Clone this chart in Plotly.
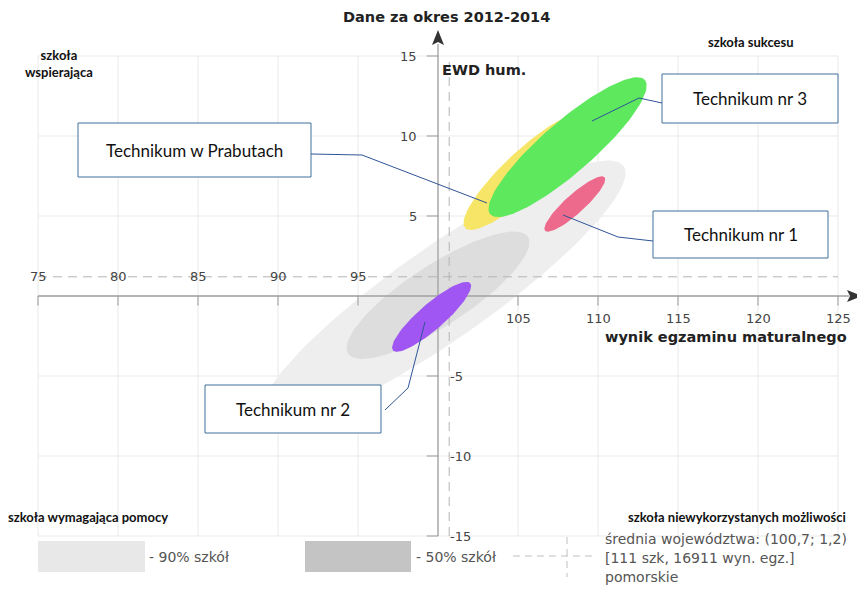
import numpy as np
import plotly.graph_objects as go

# ---------------- data ----------------
x_ticks = [75, 80, 85, 90, 95, 100, 105, 110, 115, 120, 125]
y_ticks = [-15, -10, -5, 0, 5, 10, 15]
x_tick_labels = ["75", "80", "85", "90", "95", "", "105", "110", "115", "120", "125"]
y_tick_labels = ["-15", "-10", "-5", "", "5", "10", "15"]

mean_x = 100.7
mean_y = 1.2

region_names = ["90% szkół", "50% szkół", "Technikum nr 2", "Technikum w Prabutach",
                "Technikum nr 3", "Technikum nr 1"]
region_cx = [100.3, 100.0, 99.6, 105.5, 108.1, 108.55]
region_cy = [0.2, 0.05, -1.3, 7.8, 9.3, 5.75]
region_semi_major = [13.8, 6.7, 3.2, 5.2, 6.4, 2.5]
region_semi_minor = [2.9, 1.9, 0.8, 1.3, 1.6, 0.6]
region_angle = [35, 33, 41, 43, 41, 42]
region_colors = ["#eeeeee", "#dddddd", "#a056f2", "#f6e566", "#5ee85e", "#ee6a8c"]

title_text = "Dane za okres 2012-2014"
x_title = "wynik egzaminu maturalnego"
y_title = "EWD hum."
corner_labels = ["szkoła<br>wspierająca", "szkoła sukcesu",
                 "szkoła wymagająca pomocy", "szkoła niewykorzystanych możliwości"]
legend_texts = ["- 90% szkół", "- 50% szkół",
                "średnia województwa: (100,7; 1,2)", "[111 szk, 16911 wyn. egz.]", "pomorskie"]

# ---------------- pixel <-> data helpers (layout only, screen pixels) ----------------
OFF = 8  # page body margin
W, H = 865 - OFF, 595 - OFF
X0, PX0, S, PY0 = 100.0, 438.0, 16.0, 296.0


def dx(px):
    return X0 + (px - PX0) / S


def dy(py):
    return (PY0 - py) / S


fig = go.Figure()

# grid lines (from ticks)
for xt in x_ticks:
    fig.add_trace(go.Scatter(x=[xt, xt], y=[y_ticks[0], y_ticks[-1]], mode="lines",
                             line=dict(color="#e9e9e9", width=1), hoverinfo="skip"))
for yt in y_ticks:
    fig.add_trace(go.Scatter(x=[x_ticks[0], x_ticks[-1]], y=[yt, yt], mode="lines",
                             line=dict(color="#e9e9e9", width=1), hoverinfo="skip"))


def ellipse(cx, cy, a, b, ang):
    t = np.linspace(0, 2 * np.pi, 120)
    th = np.deg2rad(ang)
    xs = cx + a * np.cos(t) * np.cos(th) - b * np.sin(t) * np.sin(th)
    ys = cy + a * np.cos(t) * np.sin(th) + b * np.sin(t) * np.cos(th)
    return xs, ys


def add_region(i):
    xs, ys = ellipse(region_cx[i], region_cy[i], region_semi_major[i],
                     region_semi_minor[i], region_angle[i])
    fig.add_trace(go.Scatter(x=xs, y=ys, mode="lines", fill="toself",
                             fillcolor=region_colors[i], line=dict(width=0),
                             name=region_names[i], hoverinfo="name"))


# gray regions
add_region(0)
add_region(1)

# mean dashed lines
fig.add_trace(go.Scatter(x=[mean_x, mean_x], y=[y_ticks[0], y_ticks[-1]], mode="lines",
                         line=dict(color="#b4b4b4", width=1, dash="9px,6px"), hoverinfo="skip"))
fig.add_trace(go.Scatter(x=[x_ticks[0], x_ticks[-1]], y=[mean_y, mean_y], mode="lines",
                         line=dict(color="#b4b4b4", width=1, dash="9px,6px"), hoverinfo="skip"))

# axes lines
fig.add_trace(go.Scatter(x=[x_ticks[0], dx(849)], y=[0, 0], mode="lines",
                         line=dict(color="#a0a0a0", width=1.3), hoverinfo="skip"))
fig.add_trace(go.Scatter(x=[100, 100], y=[y_ticks[0], dy(44)], mode="lines",
                         line=dict(color="#a0a0a0", width=1.3), hoverinfo="skip"))
# tick marks
for xt in x_ticks:
    if xt != 100:
        fig.add_trace(go.Scatter(x=[xt, xt], y=[0, -0.6], mode="lines",
                                 line=dict(color="#999999", width=1), hoverinfo="skip"))
for yt in y_ticks:
    if yt != 0:
        fig.add_trace(go.Scatter(x=[100, 99.3], y=[yt, yt], mode="lines",
                                 line=dict(color="#999999", width=1), hoverinfo="skip"))

# coloured school regions
for i in [2, 3, 4, 5]:
    add_region(i)

shapes = []
annotations = []

# arrow heads
shapes.append(dict(type="path", xref="x", yref="y",
                   path=f"M {dx(862)} {dy(296)} L {dx(847)} {dy(290)} L {dx(850)} {dy(296)} L {dx(847)} {dy(302)} Z",
                   fillcolor="#333333", line=dict(width=0)))
shapes.append(dict(type="path", xref="x", yref="y",
                   path=f"M {dx(438)} {dy(30)} L {dx(432)} {dy(45)} L {dx(438)} {dy(42)} L {dx(444)} {dy(45)} Z",
                   fillcolor="#333333", line=dict(width=0)))

tick_font = dict(family="DejaVu Sans", size=13, color="#444444")
for xt, lab in zip(x_ticks, x_tick_labels):
    if not lab:
        continue
    if xt < 100:
        annotations.append(dict(x=xt, y=dy(276), text=lab, showarrow=False, font=tick_font,
                                xanchor="center", yanchor="middle"))
    else:
        annotations.append(dict(x=xt, y=dy(318), text=lab, showarrow=False, font=tick_font,
                                xanchor="center", yanchor="middle"))
for yt, lab in zip(y_ticks, y_tick_labels):
    if not lab:
        continue
    if yt > 0:
        annotations.append(dict(x=dx(419), y=yt, text=lab, showarrow=False, font=tick_font,
                                xanchor="right", yanchor="middle"))
    else:
        annotations.append(dict(x=dx(448), y=yt, text=lab, showarrow=False, font=tick_font,
                                xanchor="left", yanchor="middle"))

bold_font = dict(family="DejaVu Sans", size=14.5, color="#222222")
annotations.append(dict(x=dx(446), y=dy(17), text=f"<b>{title_text}</b>", showarrow=False,
                        font=bold_font, xanchor="center", yanchor="middle"))
annotations.append(dict(x=dx(440), y=dy(70), text=f"<b>{y_title}</b>", showarrow=False,
                        font=bold_font, xanchor="left", yanchor="middle"))
annotations.append(dict(x=dx(849), y=dy(337), text=f"<b>{x_title}</b>", showarrow=False,
                        font=bold_font, xanchor="right", yanchor="middle"))

corner_font = dict(family="Lato", size=13, color="#111111")
corner_pos = [(59, 63), (751, 42), (88, 517), (737, 517)]
for lab, (px, py) in zip(corner_labels, corner_pos):
    annotations.append(dict(x=dx(px), y=dy(py), text=f"<b>{lab}</b>", showarrow=False,
                            font=corner_font, xanchor="center", yanchor="middle"))

# callout boxes
callout_font = dict(family="Lato", size=17, color="#111111")
boxes = [  # (left, top, right, bottom), label, polyline
    ((78, 123, 311, 177), region_names[3], [(311, 154), (362, 155), (487, 203)]),
    ((662, 74, 838, 123), region_names[4], [(662, 103), (639, 98), (592, 121)]),
    ((653, 211, 828, 258), region_names[5], [(653, 241), (618, 237), (563, 215)]),
    ((205, 385, 381, 433), region_names[2], [(385, 410), (408, 388), (425, 322)]),
]
for (l, t, r, b), lab, pts in boxes:
    shapes.append(dict(type="rect", xref="x", yref="y", x0=dx(l), x1=dx(r), y0=dy(b), y1=dy(t),
                       fillcolor="white", line=dict(color="#41719c", width=1)))
    annotations.append(dict(x=dx((l + r) / 2), y=dy((t + b) / 2), text=lab, showarrow=False,
                            font=callout_font, xanchor="center", yanchor="middle"))
    path = "M " + " L ".join(f"{dx(px)} {dy(py)}" for px, py in pts)
    shapes.append(dict(type="path", xref="x", yref="y", path=path,
                       line=dict(color="#2f5597", width=1)))

# legend
shapes.append(dict(type="rect", xref="x", yref="y", x0=dx(38), x1=dx(145), y0=dy(572), y1=dy(541),
                   fillcolor="#e8e8e8", line=dict(width=0)))
shapes.append(dict(type="rect", xref="x", yref="y", x0=dx(305), x1=dx(411), y0=dy(572), y1=dy(541),
                   fillcolor="#c4c4c4", line=dict(width=0)))
shapes.append(dict(type="line", xref="x", yref="y", x0=dx(513), x1=dx(595), y0=dy(556), y1=dy(556),
                   line=dict(color="#c0c0c0", width=1, dash="7px,5px")))
shapes.append(dict(type="line", xref="x", yref="y", x0=dx(567), x1=dx(567), y0=dy(537), y1=dy(577),
                   line=dict(color="#c0c0c0", width=1, dash="7px,5px")))
leg_font = dict(family="DejaVu Sans", size=14, color="#555555")
annotations.append(dict(x=dx(147), y=dy(557), text=legend_texts[0], showarrow=False,
                        font=leg_font, xanchor="left", yanchor="middle"))
annotations.append(dict(x=dx(414), y=dy(557), text=legend_texts[1], showarrow=False,
                        font=leg_font, xanchor="left", yanchor="middle"))
for k, py in enumerate([539, 558, 577]):
    annotations.append(dict(x=dx(603), y=dy(py), text=legend_texts[2 + k], showarrow=False,
                            font=leg_font, xanchor="left", yanchor="middle"))

fig.update_layout(
    width=W, height=H,
    margin=dict(l=0, r=0, t=0, b=0),
    paper_bgcolor="white", plot_bgcolor="white",
    showlegend=False,
    xaxis=dict(range=[dx(OFF), dx(OFF + W)], visible=False, fixedrange=True),
    yaxis=dict(range=[dy(OFF + H), dy(OFF)], visible=False, fixedrange=True),
    shapes=shapes, annotations=annotations,
)

fig.write_html("out.html")
